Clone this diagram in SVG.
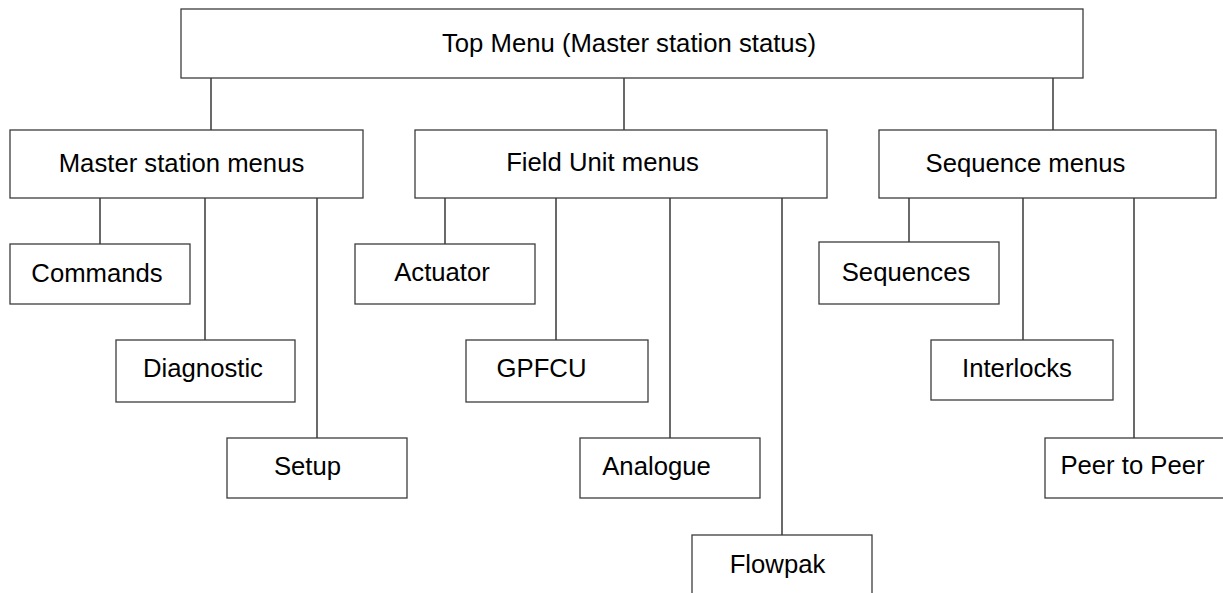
<svg xmlns="http://www.w3.org/2000/svg" width="1223" height="593" viewBox="0 0 1223 593">
<style>
.box{fill:#fff;stroke:#3c3c3c;stroke-width:1.3}
.lbl{font-family:"Liberation Sans",Arial,sans-serif;font-size:25.7px;fill:#000;text-anchor:middle}
.con{stroke:#1a1a1a;stroke-width:1.3;fill:none}
</style>
<rect x="0" y="0" width="1223" height="593" fill="#fff"/>
<g id="connectors">
<line class="con" x1="211" y1="78" x2="211" y2="130"/>
<line class="con" x1="624" y1="78" x2="624" y2="130"/>
<line class="con" x1="1053" y1="78" x2="1053" y2="130"/>
<line class="con" x1="100" y1="198" x2="100" y2="244"/>
<line class="con" x1="205" y1="198" x2="205" y2="340"/>
<line class="con" x1="317" y1="198" x2="317" y2="438"/>
<line class="con" x1="445" y1="198" x2="445" y2="244"/>
<line class="con" x1="556" y1="198" x2="556" y2="340"/>
<line class="con" x1="670" y1="198" x2="670" y2="438"/>
<line class="con" x1="782" y1="198" x2="782" y2="535"/>
<line class="con" x1="909" y1="198" x2="909" y2="242"/>
<line class="con" x1="1023" y1="198" x2="1023" y2="340"/>
<line class="con" x1="1134" y1="198" x2="1134" y2="438"/>
</g>
<g id="top"><rect class="box" x="181" y="9" width="902" height="69"/><text class="lbl" x="629" y="52">Top Menu (Master station status)</text></g>
<g id="master"><rect class="box" x="10" y="130" width="353" height="68"/><text class="lbl" x="181.5" y="172">Master station menus</text></g>
<g id="field"><rect class="box" x="415" y="130" width="412" height="68"/><text class="lbl" x="602.5" y="171">Field Unit menus</text></g>
<g id="sequence"><rect class="box" x="879" y="130" width="337" height="68"/><text class="lbl" x="1025.5" y="172">Sequence menus</text></g>
<g id="commands"><rect class="box" x="10" y="244" width="180" height="60"/><text class="lbl" x="97" y="282">Commands</text></g>
<g id="diagnostic"><rect class="box" x="116" y="340" width="179" height="62"/><text class="lbl" x="203" y="377">Diagnostic</text></g>
<g id="setup"><rect class="box" x="227" y="438" width="180" height="60"/><text class="lbl" x="307.5" y="475">Setup</text></g>
<g id="actuator"><rect class="box" x="355" y="244" width="180" height="60"/><text class="lbl" x="442" y="281">Actuator</text></g>
<g id="gpfcu"><rect class="box" x="466" y="340" width="182" height="62"/><text class="lbl" x="541.5" y="377">GPFCU</text></g>
<g id="analogue"><rect class="box" x="580" y="438" width="180" height="60"/><text class="lbl" x="656.5" y="475">Analogue</text></g>
<g id="flowpak"><rect class="box" x="692" y="535" width="180" height="70"/><text class="lbl" x="777.5" y="573">Flowpak</text></g>
<g id="sequences"><rect class="box" x="819" y="242" width="180" height="62"/><text class="lbl" x="906" y="281">Sequences</text></g>
<g id="interlocks"><rect class="box" x="931" y="340" width="182" height="60"/><text class="lbl" x="1017" y="377">Interlocks</text></g>
<g id="peer"><rect class="box" x="1045" y="438" width="182" height="60"/><text class="lbl" x="1132.5" y="474">Peer to Peer</text></g>
</svg>
